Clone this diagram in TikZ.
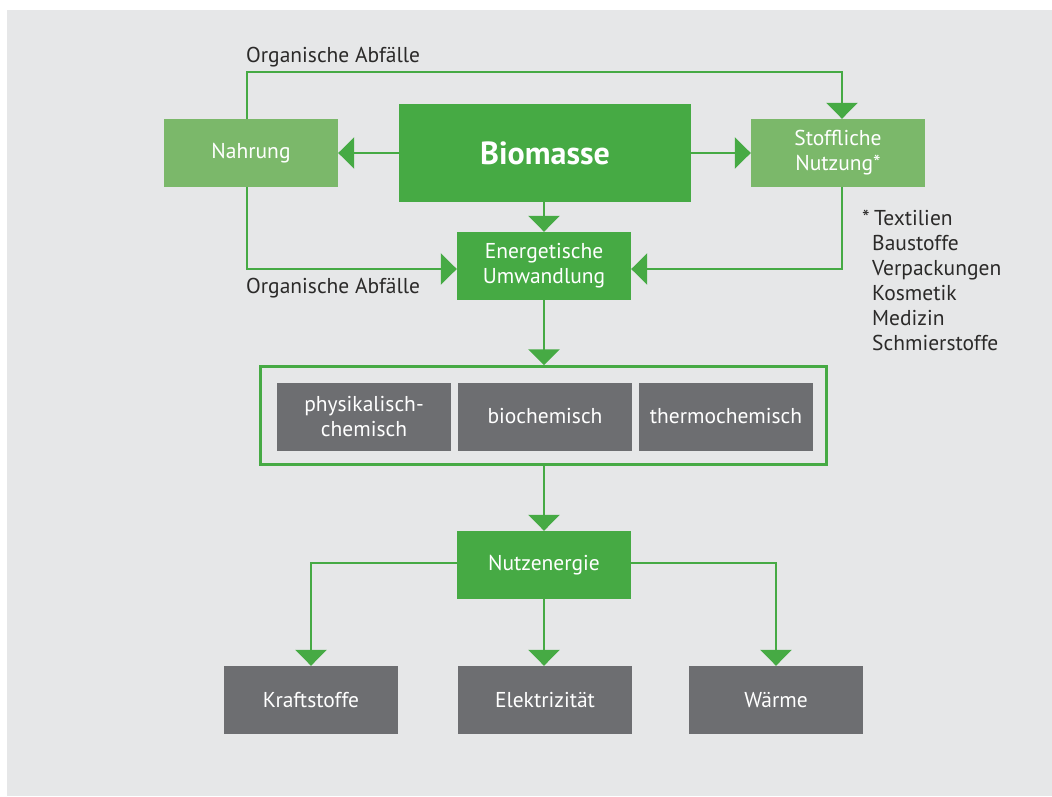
\documentclass[tikz,border=0pt]{standalone}
\usepackage{fontspec}
\setmainfont{PT Sans}
\usetikzlibrary{arrows.meta}
\definecolor{bg}{HTML}{E6E7E8}
\definecolor{gdark}{HTML}{46AA44}
\definecolor{glight}{HTML}{7BB86A}
\definecolor{gbox}{HTML}{6D6E71}
\definecolor{txt}{HTML}{2B2A29}
\tikzset{
  box/.style={rectangle, inner sep=0pt, minimum width=174pt, minimum height=68pt, text=white, align=center, font=\fontsize{21.5}{25}\selectfont},
  darkbox/.style={box, fill=gdark},
  lightbox/.style={box, fill=glight},
  graybox/.style={box, fill=gbox},
  conn/.style={draw=gdark, line width=2.5pt, -{Triangle[length=16pt,width=31pt]}},
  lbl/.style={inner sep=0pt, anchor=base west, text=txt, font=\fontsize{21.5}{25}\selectfont},
}
\begin{document}
\begin{tikzpicture}[x=1pt,y=-1pt]
\useasboundingbox (0,0) rectangle (1052,796);
\fill[bg] (7,10) rectangle (1052,796);

\node[lightbox] (nahr) at (251,153) {Nahrung};
\node[darkbox, minimum width=292pt, minimum height=98pt, font=\bfseries\fontsize{32}{36}\selectfont] (bio) at (545,153) {Biomasse};
\node[lightbox] (stoff) at (838,153) {Stoffliche\\Nutzung*};
\node[darkbox] (energ) at (544,266) {Energetische\\Umwandlung};

\node[rectangle, draw=gdark, line width=2.5pt, minimum width=566pt, minimum height=98pt, inner sep=0pt] (frame) at (543.5,415.5) {};
\node[graybox] (phys) at (364,416.5) {physikalisch-\\chemisch};
\node[graybox] (bioc) at (545,416.5) {biochemisch};
\node[graybox] (thermo) at (726,416.5) {thermochemisch};

\node[darkbox] (nutz) at (544,565) {Nutzenergie};
\node[graybox] (kraft) at (311,700) {Kraftstoffe};
\node[graybox] (elek) at (545,700) {Elektrizität};
\node[graybox] (warme) at (776,700) {Wärme};

\coordinate (tl) at (247,72);
\coordinate (tr) at (842,72);
\coordinate (bl) at (247,269);
\coordinate (br) at (842,269);
\coordinate (kl) at (311,563);
\coordinate (kr) at (776,563);

\draw[conn] (bio.west) -- (nahr.east);
\draw[conn] (bio.east) -- (stoff.west);
\draw[conn] (energ.north |- bio.south) -- (energ.north);
\draw[conn] (nahr.north -| tl) -- (tl) -- (tr) -- (tr |- stoff.north);
\draw[conn] (nahr.south -| bl) -- (bl) -- (energ.west |- bl);
\draw[conn] (stoff.south -| br) -- (br) -- (energ.east |- br);
\draw[conn] (energ.south) -- (energ.south |- frame.north);
\draw[conn] (nutz.north |- frame.south) -- (nutz.north);
\draw[conn] (nutz.west |- kl) -- (kl) -- (kraft.north);
\draw[conn] (nutz.south) -- (elek.north -| nutz.south);
\draw[conn] (nutz.east |- kr) -- (kr) -- (warme.north);

\node[lbl] (ltop) at (246,62) {Organische Abfälle};
\node[lbl] (lbot) at (246,293) {Organische Abfälle};
\node[lbl] (star) at (862,225) {*};
\node[lbl] (f1) at (874,225) {Textilien};
\node[lbl] (f2) at (872,250) {Baustoffe};
\node[lbl] (f3) at (872,275) {Verpackungen};
\node[lbl] (f4) at (872,300) {Kosmetik};
\node[lbl] (f5) at (872,325) {Medizin};
\node[lbl] (f6) at (872,350) {Schmierstoffe};
\end{tikzpicture}
\end{document}
